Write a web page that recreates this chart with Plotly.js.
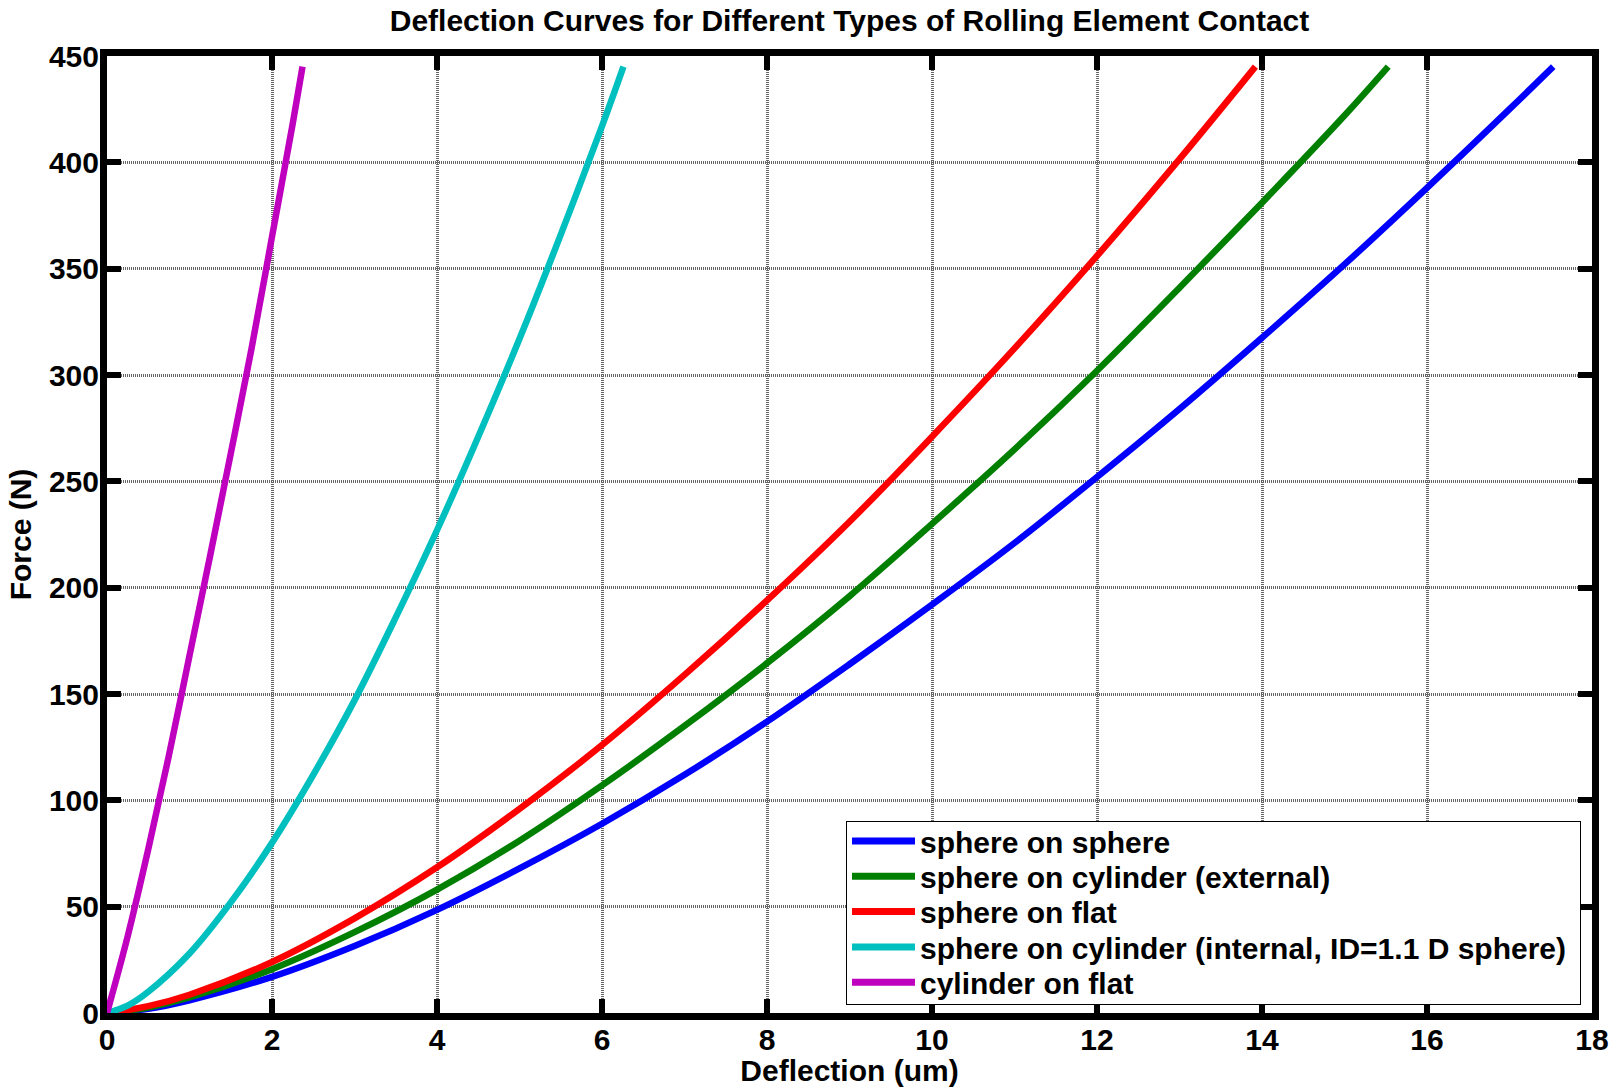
<!DOCTYPE html>
<html>
<head>
<meta charset="utf-8">
<script src="https://cdn.plot.ly/plotly-3.0.1.min.js"></script>
<style>html,body{margin:0;padding:0;background:#fff;}#chart{width:1623px;height:1087px;}</style>
</head>
<body>
<div id="chart"></div>
<script>
// Data
const seriesNames = [
  "sphere on sphere",
  "sphere on cylinder (external)",
  "sphere on flat",
  "sphere on cylinder (internal, ID=1.1 D sphere)",
  "cylinder on flat"
];
const seriesColors = ["#0000ff", "#007f00", "#ff0000", "#00bfbf", "#bf00bf"];

const sphereSphereX = [0, 0.5, 1, 2, 3, 4, 5, 6, 7, 8, 9, 10, 11, 12, 13, 14, 15, 16, 17, 17.53];
const sphereSphereF = [0, 2, 6, 17, 31.5, 48.5, 68, 89, 112, 137, 164, 192, 221, 252, 284, 317.5, 352, 388, 425, 445];

const sphereCylExtX = [0, 0.5, 1, 2, 3, 4, 5, 6, 7, 8, 9, 10, 11, 12, 13, 14, 15, 15.53];
const sphereCylExtF = [0, 2.6, 7.3, 20.6, 38, 58, 81, 107, 135, 164.5, 196, 230, 265, 302, 341, 381, 422, 445];

const sphereFlatX = [0, 0.5, 1, 2, 3, 4, 5, 6, 7, 8, 9, 10, 11, 12, 13, 13.92];
const sphereFlatF = [0, 3.2, 8.6, 24, 44.5, 68.5, 96, 126, 159, 194, 231, 271, 312.5, 356, 401.5, 445];

const sphereCylIntX = [0, 0.25, 0.5, 1, 1.5, 2, 2.5, 3, 3.5, 4, 4.5, 5, 5.5, 6, 6.26];
const sphereCylIntF = [0, 3.5, 10, 28, 52, 80, 112, 147, 186, 227, 271, 317, 366, 417, 445];

const cylFlatX = [0, 0.25, 0.5, 0.75, 1, 1.25, 1.5, 1.75, 2, 2.25, 2.37];
const cylFlatF = [0, 36, 77, 121, 168, 215, 263, 312, 365, 418, 445];

const xs = [sphereSphereX, sphereCylExtX, sphereFlatX, sphereCylIntX, cylFlatX];
const ys = [sphereSphereF, sphereCylExtF, sphereFlatF, sphereCylIntF, cylFlatF];

const xTicks = [0, 2, 4, 6, 8, 10, 12, 14, 16, 18];
const yTicks = [0, 50, 100, 150, 200, 250, 300, 350, 400, 450];

const titleText = "Deflection Curves for Different Types of Rolling Element Contact";
const xTitle = "Deflection (um)";
const yTitle = "Force (N)";

const FONT = "Liberation Sans, Arial, sans-serif";
const LEGEND_ROW = 35.3;

const traces = seriesNames.map((n, i) => ({
  type: "scatter",
  mode: "lines",
  name: n,
  x: xs[i],
  y: ys[i],
  line: {color: seriesColors[i], width: 6.5, shape: "spline", smoothing: 1}
}));

const axisCommon = {
  showline: true, linecolor: "#000", linewidth: 7, mirror: "ticks",
  ticks: "inside", ticklen: 14, tickwidth: 6, tickcolor: "#000",
  showgrid: true, gridcolor: "#666666", gridwidth: 3, griddash: "1px,1px",
  zeroline: false, fixedrange: true,
  tickfont: {family: FONT, size: 30, color: "#000", weight: "bold"}
};

const layout = {
  width: 1623, height: 1087,
  margin: {l: 107, r: 31, t: 56, b: 74},
  paper_bgcolor: "#fff", plot_bgcolor: "#fff",
  title: {text: titleText, x: 0.5, xref: "paper", y: 1 - 20/1087, yref: "container", yanchor: "middle",
          font: {family: FONT, size: 30, color: "#000", weight: "bold"}},
  xaxis: Object.assign({}, axisCommon, {
    range: [0, 18], tickvals: xTicks, ticktext: xTicks.map(String),
    title: {text: xTitle, standoff: 3, font: {family: FONT, size: 30, color: "#000", weight: "bold"}}
  }),
  yaxis: Object.assign({}, axisCommon, {
    range: [0, 450], tickvals: yTicks, ticktext: yTicks.map(String),
    title: {text: yTitle, standoff: 6, font: {family: FONT, size: 30, color: "#000", weight: "bold"}}
  }),
  showlegend: true,
  legend: {
    x: (846 - 107) / 1485, y: (1013 - 821) / 957, xanchor: "left", yanchor: "top",
    bgcolor: "#fff", bordercolor: "#000", borderwidth: 1,
    font: {family: FONT, size: 30, color: "#000", weight: "bold"},
    tracegroupgap: 0, itemwidth: 63, traceorder: "normal"
  }
};

const gd = document.getElementById("chart");

function nudgeAttr(t, attr, delta) {
  const cur = t.getAttribute(attr);
  if (cur !== null && t.dataset.nv === cur) return; // already nudged and not reset
  const base = parseFloat(cur || "0");
  const nv = String(base + delta);
  t.setAttribute(attr, nv);
  t.dataset.nv = nv;
}

function finishStyling() {
  // nudge tick labels closer to the thick axis lines
  gd.querySelectorAll("g.xtick text").forEach(t => nudgeAttr(t, "y", -6));
  gd.querySelectorAll("g.ytick text").forEach(t => nudgeAttr(t, "x", 5));

  const legend = gd.querySelector("g.legend");
  if (!legend || legend.dataset.nudged) return;
  const items = Array.from(legend.querySelectorAll("g.traces"));
  if (items.length < 2) return;
  legend.dataset.nudged = "1";
  const parse = t => {
    const m = /translate\(\s*([-\d.eE]+)[\s,]+([-\d.eE]+)/.exec(t || "");
    return m ? [parseFloat(m[1]), parseFloat(m[2])] : [0, 0];
  };
  const p0 = parse(items[0].getAttribute("transform"));
  const p1 = parse(items[1].getAttribute("transform"));
  const oldRow = p1[1] - p0[1];
  const startY = p0[1] - 7;
  items.forEach((it, i) => {
    const p = parse(it.getAttribute("transform"));
    it.setAttribute("transform", "translate(" + p[0] + "," + (startY + i * LEGEND_ROW) + ")");
  });
  const bg = legend.querySelector("rect.bg");
  if (bg) {
    const h = parseFloat(bg.getAttribute("height"));
    bg.setAttribute("height", h - (oldRow - LEGEND_ROW) * items.length - 5);
    const w = parseFloat(bg.getAttribute("width"));
    bg.setAttribute("width", w + 8);
  }
  legend.querySelectorAll(".legendlines path").forEach(p => { p.style.strokeWidth = "7px"; });
}

Plotly.newPlot(gd, traces, layout, {displayModeBar: false, staticPlot: true}).then(() => {
  finishStyling();
  gd.on("plotly_afterplot", () => setTimeout(finishStyling, 0));
  [20, 80, 200, 500, 1000, 2000].forEach(ms => setTimeout(finishStyling, ms));
});
</script>
</body>
</html>
